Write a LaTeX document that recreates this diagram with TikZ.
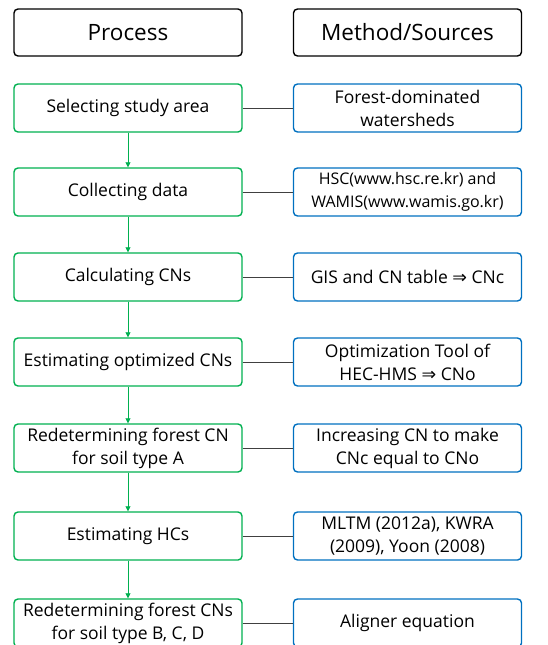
\documentclass[tikz,border=0pt]{standalone}
\usepackage{fontspec}
\setmainfont{Open Sans}
\newfontfamily\arrowfont{DejaVu Sans}
\usetikzlibrary{arrows.meta,positioning}
\definecolor{stepgreen}{HTML}{00B050}
\definecolor{srcblue}{HTML}{0070C0}
\definecolor{linkgray}{HTML}{404040}
\newcommand{\impl}{{\arrowfont\char"21D2}}

\begin{document}
\begin{tikzpicture}[x=1pt,y=-1pt,
  headbox/.style={draw=black,line width=1.4pt,rounded corners=4pt,
    minimum width=228pt,minimum height=47pt,inner sep=0pt,
    font=\fontsize{22.5}{26}\selectfont},
  procbox/.style={draw=stepgreen,line width=1.4pt,rounded corners=4pt,
    minimum width=228pt,minimum height=48pt,inner sep=0pt,align=center,
    font=\fontsize{17.5}{23}\selectfont},
  srcbox/.style={procbox,draw=srcblue},
  flow/.style={stepgreen,line width=0.8pt,-{Triangle[length=5pt,width=5pt]}},
  link/.style={linkgray,line width=0.8pt}]

  \useasboundingbox (0,0) rectangle (547,645);

  % ---- Headers ------------------------------------------------
  \node[headbox] (hproc) at (128,32.5) {Process};
  \node[headbox] (hsrc)  at (407.5,32.5) {Method/Sources};

  % ============================================================
  %  LEFT: process steps
  % ============================================================
  \node[procbox] (p1) at (128,108) {Selecting study area};
  \node[procbox] (p2) at (128,192) {Collecting data};
  \node[procbox] (p3) at (128,277) {Calculating CNs};
  \node[procbox] (p4) at (128,362) {Estimating optimized CNs};
  \node[procbox] (p5) at (128,448) {Redetermining forest CN\\for soil type A};
  \node[procbox] (p6) at (128,536) {Estimating HCs};
  \node[procbox] (p7) at (128,623) {Redetermining forest CNs\\for soil type B, C, D};

  % ============================================================
  %  RIGHT: methods / sources
  % ============================================================
  \node[srcbox] (s1) at (407.5,108) {Forest-dominated\\watersheds};
  \node[srcbox,font=\fontsize{16}{23}\selectfont] (s2) at (407.5,192)
    {HSC(www.hsc.re.kr) and\\WAMIS(www.wamis.go.kr)};
  \node[srcbox] (s3) at (407.5,277) {GIS and CN table \impl{} CNc};
  \node[srcbox] (s4) at (407.5,362) {Optimization Tool of\\HEC-HMS \impl{} CNo};
  \node[srcbox] (s5) at (407.5,448) {Increasing CN to make\\CNc equal to CNo};
  \node[srcbox] (s6) at (407.5,536) {MLTM (2012a), KWRA\\(2009), Yoon (2008)};
  \node[srcbox] (s7) at (407.5,623) {Aligner equation};

  % ---- Connectors ---------------------------------------------
  \draw[flow] (p1) -- (p2);
  \draw[flow] (p2) -- (p3);
  \draw[flow] (p3) -- (p4);
  \draw[flow] (p4) -- (p5);
  \draw[flow] (p5) -- (p6);
  \draw[flow] (p6) -- (p7);

  \draw[link] (p1) -- (s1);
  \draw[link] (p2) -- (s2);
  \draw[link] (p3) -- (s3);
  \draw[link] (p4) -- (s4);
  \draw[link] (p5) -- (s5);
  \draw[link] (p6) -- (s6);
  \draw[link] (p7) -- (s7);

\end{tikzpicture}
\end{document}
